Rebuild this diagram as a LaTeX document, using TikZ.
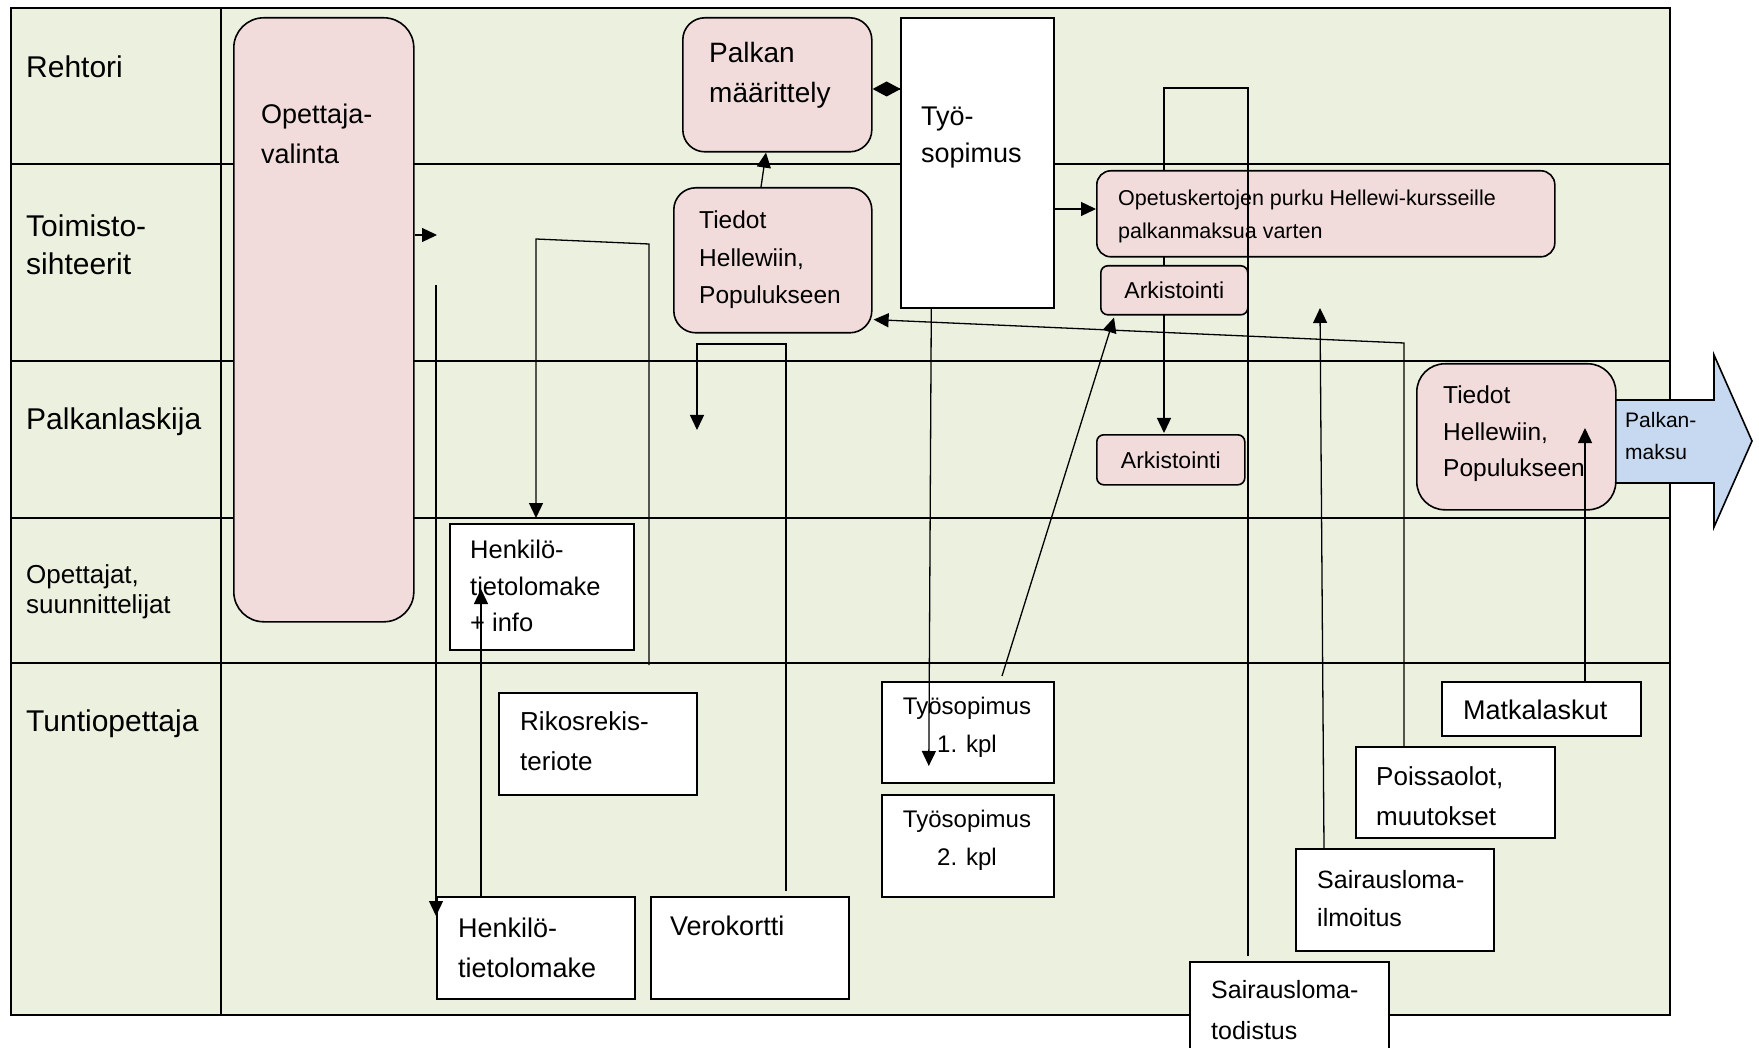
\documentclass[tikz,border=0pt]{standalone}
\usepackage{fontspec}
\setmainfont{Liberation Sans}
\usetikzlibrary{arrows.meta,calc}
\definecolor{lanegreen}{HTML}{EBF1DE}
\definecolor{boxpink}{HTML}{F2DCDB}
\definecolor{arrowblue}{HTML}{C6D9F1}
\newcommand\myfs[2]{\fontsize{#1}{#2}\selectfont}
\begin{document}
\begin{tikzpicture}[x=1pt,y=-1pt,
  lane/.style={line width=2.2pt},
  pbox/.style={draw=black, fill=boxpink, line width=1.6pt, inner sep=0pt, anchor=north west},
  wbox/.style={draw=black, fill=white, line width=1.6pt, inner sep=0pt, anchor=north west},
  txt/.style={inner sep=0pt, anchor=west, align=left},
  conn/.style={line width=1.3pt},
  arr/.style={conn, -{Triangle[length=15pt,width=14pt]}},
]
\useasboundingbox (0,0) rectangle (1759,1048);
\fill[white] (0,0) rectangle (1759,1048);
% lanes
\fill[lanegreen] (11,8) rectangle (1670,1015);
\draw[lane] (11,8) rectangle (1670,1015);
\draw[lane] (221,8) -- (221,1015);
\foreach \y in {164,361,518,663} \draw[lane] (11,\y) -- (1670,\y);
% lane labels
\node[txt, font=\myfs{30}{38}] (lrehtori) at (26,67) {Rehtori};
\node[txt, font=\myfs{30}{38}] (ltoimisto) at (26,245) {Toimisto-\\sihteerit};
\node[txt, font=\myfs{30}{38}] (lpalkan) at (26,422) {Palkanlaskija};
\node[txt, font=\myfs{26}{30}] (lopettajat) at (26,592) {Opettajat,\\suunnittelijat};
\node[txt, font=\myfs{30}{38}] (ltunti) at (26,724) {Tuntiopettaja};
% big output arrow
\draw[line width=1.6pt, fill=arrowblue] (1600,400) -- (1714,400) -- (1714,355) -- (1752,441) -- (1714,527) -- (1714,483) -- (1600,483) -- cycle;
% boxes
\node[pbox, rounded corners=30pt, minimum width=180pt, minimum height=604pt] (ov) at (233,17) {};
\node[pbox, rounded corners=22pt, minimum width=189pt, minimum height=134pt] (pm) at (682,17) {};
\node[wbox, minimum width=153pt, minimum height=290pt] (tyo) at (900,17) {};
\node[pbox, rounded corners=22pt, minimum width=198pt, minimum height=145pt] (th1) at (673,187) {};
\node[wbox, minimum width=184pt, minimum height=126pt] (hti) at (449,523) {};
\node[wbox, minimum width=198pt, minimum height=102pt] (rik) at (498,692) {};
\node[wbox, minimum width=198pt, minimum height=102pt] (htl) at (436,896) {};
\node[wbox, minimum width=198pt, minimum height=102pt] (vero) at (650,896) {};
\node[wbox, minimum width=172pt, minimum height=101pt] (kpl1) at (881,681) {};
\node[wbox, minimum width=172pt, minimum height=102pt] (kpl2) at (881,794) {};
\node[wbox, minimum width=199pt, minimum height=91pt] (poiss) at (1355,746) {};
\node[wbox, minimum width=199pt, minimum height=54pt] (matka) at (1441,681) {};
\node[wbox, minimum width=198pt, minimum height=102pt] (slilm) at (1295,848) {};
\node[wbox, minimum width=199pt, minimum height=120pt] (sltod) at (1189,961) {};
\node[pbox, rounded corners=28pt, minimum width=199pt, minimum height=146pt] (th2) at (1416,363) {};
% connector that runs behind the Opetus and Arkistointi boxes
\coordinate (hcorner1) at (1248,88);
\coordinate (hcorner2) at (1164,88);
\draw[arr] ($(sltod.north west)+(59,-5)$) -- (hcorner1) -- (hcorner2) -- (1164,433);
\node[pbox, rounded corners=14pt, minimum width=458pt, minimum height=86pt] (op) at (1096,170) {};
\node[pbox, rounded corners=7pt, minimum width=147pt, minimum height=49pt, font=\myfs{23}{26}] (ark1) at (1100,265) {Arkistointi};
\node[pbox, rounded corners=7pt, minimum width=148pt, minimum height=50pt, font=\myfs{23}{26}] (ark2) at (1096,434) {Arkistointi};
% same connector again where it crosses the Opetus box on top
\draw[conn] ($(op.north west)+(152,-6)$) -- ($(op.south west)+(152,6)$);
% texts
\node[txt, font=\myfs{27}{40}] (ovt) at (261,134) {Opettaja-\\valinta};
\node[txt, font=\myfs{28}{40}] (pmt) at (709,75) {Palkan\\määrittely};
\node[txt, font=\myfs{27}{37}] (tyot) at (921,138) {Työ-\\sopimus};
\node[txt, font=\myfs{24.5}{37.5}] (th1t) at (699,260) {Tiedot\\Hellewiin,\\Populukseen};
\node[txt, font=\myfs{21.5}{33}] (opt) at (1118,216) {Opetuskertojen purku Hellewi-kursseille\\palkanmaksua varten};
\node[txt, font=\myfs{24.5}{36.5}] (th2t) at (1443,434) {Tiedot\\Hellewiin,\\Populukseen};
\node[txt, font=\myfs{21}{32}] (paytxt) at (1625,436) {Palkan-\\maksu};
\node[txt, font=\myfs{25.5}{36.5}] (htit) at (470,586) {Henkilö-\\tietolomake\\+ info};
\node[txt, font=\myfs{26}{40}] (rikt) at (520,741) {Rikosrekis-\\teriote};
\node[txt, font=\myfs{27}{40}] (htlt) at (458,948) {Henkilö-\\tietolomake};
\node[txt, font=\myfs{27}{32}] (verot) at (670,926) {Verokortti};
\node[inner sep=0pt, align=center, font=\myfs{24}{38}] (kpl1t) at (967,727) {Työsopimus\\1. kpl};
\node[inner sep=0pt, align=center, font=\myfs{24}{38}] (kpl2t) at (967,840) {Työsopimus\\2. kpl};
\node[txt, font=\myfs{25}{41}] (sltodt) at (1211,1010) {Sairausloma-\\todistus};
\node[txt, font=\myfs{25}{38}] (slilmt) at (1317,899) {Sairausloma-\\ilmoitus};
\node[txt, font=\myfs{26}{40}] (poisst) at (1376,796) {Poissaolot,\\muutokset};
\node[txt, font=\myfs{27}{32}] (matkat) at (1463,710) {Matkalaskut};
% connectors
\coordinate (afree) at (437,235);
\draw[arr] (ov.east |- afree) -- (afree);
\coordinate (bfree) at (436,285);
\draw[arr] (bfree) -- ($(htl.north west)+(0,20)$);
\draw[arr] ($(htl.north west)+(45,0)$) -- ($(hti.north west)+(32,66)$);
\coordinate (dfree) at (649,665);
\draw[arr] (dfree) -- (649,244) -- (536,239) -- ($(hti.north west)+(87,-5)$);
\coordinate (efree) at (697,430);
\draw[arr] ($(vero.north west)+(136,-5)$) -- (786,344) -- (697,344) -- (efree);
\draw[arr] ($(tyo.south)+(-46,0)$) -- ($(kpl1.north)+(-39,85)$);
\draw[arr] ($(kpl1.north west)+(121,-5)$) -- ($(ark1.south west)+(14,2)$);
\draw[arr] ($(poiss.north west)+(49,0)$) -- (1404,343) -- ($(th1.south east)+(1,-14)$);
\coordinate (jfree) at (1320,308);
\draw[arr] ($(slilm.north west)+(29,0)$) -- (jfree);
\draw[arr] ($(matka.north west)+(144,0)$) -- ($(th2.north west)+(169,65)$);
\draw[conn, -{Diamond[length=28pt,width=15pt]}] ($(tyo.north west)+(0,72)$) -- ($(pm.north east)+(0,72)$);
\draw[arr] ($(th1.north west)+(88,0)$) -- ($(pm.south west)+(84,0)$);
\draw[arr] ($(tyo.north east)+(0,192)$) -- ($(op.north west)+(0,39)$);
\end{tikzpicture}
\end{document}
